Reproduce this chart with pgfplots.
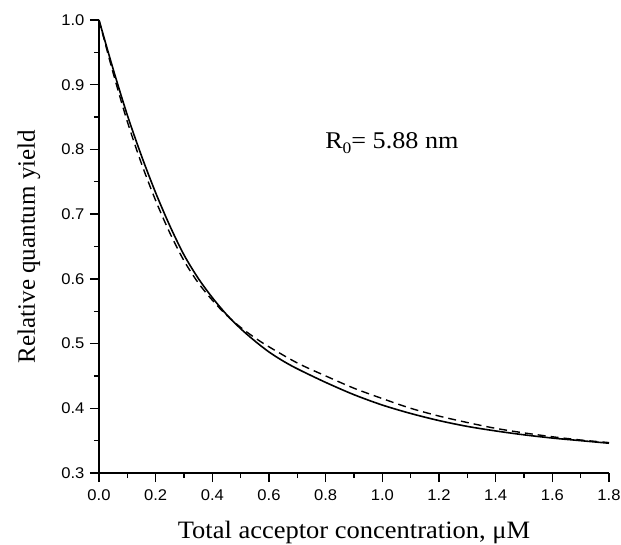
\documentclass[border=0pt]{standalone}
\usepackage{fontspec}
\setmainfont{Liberation Serif}
\newfontfamily\wideserif{Liberation Serif}[FakeStretch=1.06]
\newfontfamily\annserif{Liberation Serif}[FakeStretch=1.09]
\newfontfamily\arial{Liberation Sans}[FakeStretch=1.07]
\usepackage{pgfplots}
\pgfplotsset{compat=1.18}
\begin{document}
\begin{tikzpicture}
\begin{axis}[
  at={(0pt,0pt)}, anchor=origin,
  scale only axis, width=510pt, height=453pt,
  xmin=0, xmax=1.8, ymin=0.3, ymax=1.0,
  axis x line*=bottom, axis y line*=left,
  axis line style={line width=1.6pt},
  xtick={0,0.2,...,1.8}, ytick={0.3,0.4,...,1.0},
  minor x tick num=1, minor y tick num=1,
  tick align=outside,
  major tick length=9pt, minor tick length=5pt,
  every tick/.style={line width=1.4pt, black},
  xticklabel style={/pgf/number format/fixed,/pgf/number format/fixed zerofill,/pgf/number format/precision=1},
  yticklabel style={/pgf/number format/fixed,/pgf/number format/fixed zerofill,/pgf/number format/precision=1},
  /pgf/number format/assume math mode=true,
  ticklabel style={font=\arial\fontsize{15.5}{18}\selectfont},
  xticklabel style={yshift=-4pt},
  yticklabel style={xshift=-2pt},
  xlabel={Total acceptor concentration, μM},
  ylabel={Relative quantum yield},
  xlabel style={font=\wideserif\fontsize{25}{29}\selectfont, at={(axis description cs:0.5,-0.1435)}, anchor=base, inner sep=0pt},
  ylabel style={font=\fontsize{25}{29}\selectfont, at={(axis description cs:-0.1255,0.5)}, anchor=base, inner sep=0pt},
  clip=false,
]
\addplot[line width=1.6pt, black, smooth] coordinates {
(0.00,1.000) (0.05,0.924) (0.10,0.853) (0.15,0.790) (0.20,0.733)
(0.25,0.682) (0.30,0.637) (0.35,0.601) (0.40,0.571) (0.45,0.545)
(0.50,0.523) (0.55,0.504) (0.60,0.487) (0.65,0.473) (0.70,0.461)
(0.80,0.440) (0.90,0.421) (1.00,0.405) (1.10,0.392) (1.20,0.381)
(1.30,0.372) (1.40,0.365) (1.50,0.359) (1.60,0.354) (1.70,0.350) (1.80,0.346)
};
\addplot[line width=1.4pt, black, dash pattern=on 8pt off 5pt, smooth] coordinates {
(0.00,1.000) (0.05,0.918) (0.10,0.843) (0.15,0.778) (0.20,0.721)
(0.25,0.671) (0.30,0.628) (0.35,0.594) (0.40,0.567) (0.45,0.544)
(0.50,0.525) (0.55,0.509) (0.60,0.495) (0.70,0.470) (0.80,0.450)
(0.90,0.431) (1.00,0.415) (1.10,0.400) (1.20,0.388) (1.30,0.378)
(1.40,0.369) (1.50,0.362) (1.60,0.356) (1.70,0.351) (1.80,0.347)
};
\node[anchor=base east, font=\annserif\fontsize{24}{28}\selectfont, inner sep=0pt] at (axis cs:1.2695,0.8007) {R\raisebox{-0.45ex}{\fontsize{16}{18}\selectfont 0}= 5.88 nm};
\end{axis}
\pgfresetboundingbox
\path (-99pt,-71pt) rectangle (522pt,473pt);
\end{tikzpicture}
\end{document}
